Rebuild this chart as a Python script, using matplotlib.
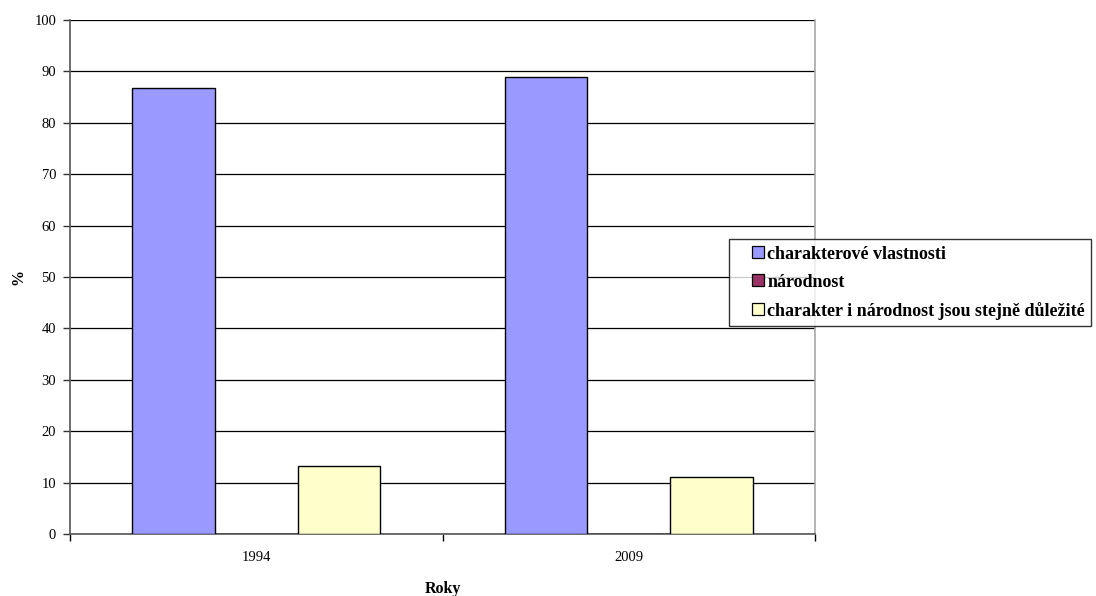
import matplotlib
matplotlib.use("Agg")
import matplotlib.pyplot as plt
from matplotlib.lines import Line2D
import numpy as np

# Data
years = ["1994", "2009"]
series_names = [
    "charakterové vlastnosti",
    "národnost",
    "charakter i národnost jsou stejně důležité",
]
charakter = [86.7, 88.9]
narodnost = [0.0, 0.0]
oboji = [13.3, 11.1]
y_ticks = [0, 10, 20, 30, 40, 50, 60, 70, 80, 90, 100]

colors = ["#9999FF", "#993366", "#FFFFCC"]

plt.rcParams["font.family"] = ["Liberation Serif", "DejaVu Serif"]

fig = plt.figure(figsize=(10.96, 5.96), dpi=100)
W, H = 1096, 596
ax = fig.add_axes([70 / W, 1 - 534 / H, 745 / W, 514 / H])

x = np.arange(len(years))
bar_w = 1 / 4.5
for i, (vals, name, col) in enumerate(zip([charakter, narodnost, oboji], series_names, colors)):
    ax.bar(x + (i - 1) * bar_w, vals, width=bar_w, color=col, edgecolor="black",
           linewidth=1.0, label=name, zorder=3)

ax.set_xlim(-0.5, len(years) - 0.5)
ax.set_ylim(0, 100)
ax.set_yticks(y_ticks)
ax.yaxis.grid(True, color="black", linewidth=0.9, zorder=0)
ax.set_axisbelow(True)

# Category boundaries carry the tick marks, labels sit at category centres
ax.set_xticks(np.arange(-0.5, len(years), 1.0))
ax.set_xticklabels([])
ax.set_xticks(x, minor=True)
ax.set_xticklabels(years, minor=True)
ax.tick_params(axis="x", which="major", length=5, width=1, color="black", direction="out")
ax.tick_params(axis="x", which="minor", length=0, labelsize=10.5, pad=12.5)
ax.tick_params(axis="y", length=5, width=1, color="#333333", labelsize=10.5, pad=5)

for s in ["left", "bottom"]:
    ax.spines[s].set_color("#555555")
    ax.spines[s].set_linewidth(1.2)
ax.spines["top"].set_visible(False)
ax.spines["right"].set_color("#A8A8A8")
ax.spines["right"].set_linewidth(1.2)

ax.set_ylabel("%", fontweight="bold", fontsize=11.5)
ax.set_xlabel("Roky", fontweight="bold", fontsize=11.5)
ax.yaxis.set_label_coords(-52 / 745, 0.5)
ax.xaxis.set_label_coords(0.5, -55 / 514)
ax.xaxis.label.set_verticalalignment("center")
ax.yaxis.label.set_verticalalignment("center")

# Legend with small square keys
handles = [Line2D([], [], marker="s", linestyle="none", markersize=8.5,
                  markerfacecolor=c, markeredgecolor="black", markeredgewidth=0.9)
           for c in colors]
leg = fig.legend(handles, series_names, loc="upper left",
                 bbox_to_anchor=(729 / W, 1 - 239 / H),
                 frameon=True, fancybox=False, shadow=False, numpoints=1,
                 prop={"weight": "bold", "size": 13},
                 handlelength=2.44, handletextpad=-0.69,
                 borderpad=0.36, labelspacing=0.615, borderaxespad=0)
leg.get_frame().set_edgecolor("black")
leg.get_frame().set_linewidth(1.0)

fig.savefig("out.png", dpi=100)
